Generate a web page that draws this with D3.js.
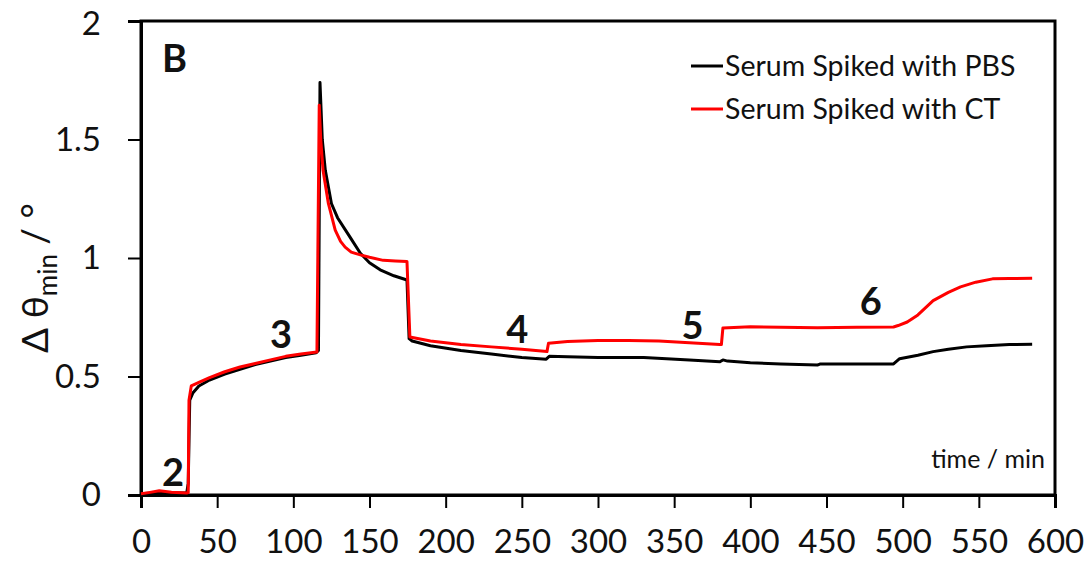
<!DOCTYPE html>
<html>
<head>
<meta charset="utf-8">
<script src="https://cdn.jsdelivr.net/npm/d3@7"></script>
<style>
  html, body { margin: 0; padding: 0; background: #fff; }
  svg { display: block; font-family: Lato, "Open Sans", sans-serif; }
</style>
</head>
<body>
<svg id="chart" width="1089" height="573"></svg>
<script>
// Serum spiked with PBS (control)
const timePBS  = [0, 10, 20, 30, 31, 32, 34, 38, 45, 55, 65, 75, 85, 95, 105, 115, 116.5, 117.5, 119, 121, 125, 129, 137, 144, 150, 157, 166, 174.6, 176, 178, 190, 210, 230, 250, 266, 268, 280, 300, 330, 360, 380, 382, 385, 400, 420, 444, 446, 470, 494, 498, 510, 520, 530, 542, 555, 570, 585];
const valuePBS = [0.005, 0.01, 0.01, 0.008, 0.05, 0.40, 0.43, 0.46, 0.485, 0.51, 0.53, 0.55, 0.565, 0.58, 0.59, 0.60, 0.61, 1.74, 1.50, 1.37, 1.23, 1.17, 1.09, 1.02, 0.98, 0.95, 0.925, 0.907, 0.66, 0.65, 0.63, 0.61, 0.595, 0.58, 0.573, 0.585, 0.583, 0.58, 0.58, 0.57, 0.562, 0.57, 0.565, 0.558, 0.553, 0.548, 0.553, 0.553, 0.553, 0.575, 0.59, 0.605, 0.615, 0.625, 0.63, 0.635, 0.636];

// Serum spiked with CT
const timeCT  = [0, 5, 12, 20, 30, 31, 31.5, 33, 38, 45, 55, 65, 75, 85, 95, 105, 115.5, 117, 118, 119.5, 123, 127.5, 131, 134, 138, 144, 150, 159, 167, 174.6, 176.5, 190, 210, 230, 250, 266.5, 267.5, 280, 300, 320, 340, 360, 380, 381, 382, 400, 420, 444, 470, 494, 497, 503, 510, 520, 530, 538, 548, 559, 570, 585];
const valueCT = [0.005, 0.01, 0.018, 0.012, 0.008, 0.01, 0.40, 0.46, 0.475, 0.495, 0.52, 0.54, 0.555, 0.57, 0.585, 0.595, 0.603, 1.645, 1.50, 1.37, 1.23, 1.118, 1.07, 1.046, 1.025, 1.013, 1.003, 0.99, 0.987, 0.985, 0.667, 0.65, 0.635, 0.625, 0.615, 0.605, 0.64, 0.648, 0.652, 0.652, 0.65, 0.642, 0.635, 0.635, 0.705, 0.71, 0.708, 0.706, 0.708, 0.709, 0.715, 0.73, 0.76, 0.82, 0.855, 0.878, 0.898, 0.912, 0.913, 0.915];

const xTicks = [0, 50, 100, 150, 200, 250, 300, 350, 400, 450, 500, 550, 600];
const yTicks = [0, 0.5, 1, 1.5, 2];

const seriesNames = ["Serum Spiked with PBS", "Serum Spiked with CT"];
const seriesColors = ["#000000", "#ff0000"];

// Step annotations (injection numbers)
const stepLabels = ["2", "3", "4", "5", "6"];
const stepTimes  = [21, 92, 247, 362, 479];
const stepValues = [0.04, 0.62, 0.64, 0.66, 0.76];

const svg = d3.select("#chart");
const x = d3.scaleLinear().domain([0, 600]).range([141, 1055]);
const y = d3.scaleLinear().domain([0, 2]).range([495, 21]);

// Plot frame
svg.append("rect")
  .attr("x", x(0)).attr("y", y(2))
  .attr("width", x(600) - x(0)).attr("height", y(0) - y(2))
  .attr("fill", "none").attr("stroke", "#000").attr("stroke-width", 3);

// Axes
const xAxis = d3.axisBottom(x).tickValues(xTicks).tickSize(13).tickPadding(22)
  .tickFormat(d3.format("d"));
const gx = svg.append("g").attr("transform", `translate(0,${y(0)})`).call(xAxis);
gx.select(".domain").attr("stroke-width", 3);
gx.selectAll(".tick line").attr("stroke-width", 2);
gx.selectAll(".tick text").attr("font-size", 33).attr("fill", "#111")
  .attr("font-family", "Lato, sans-serif");

const yAxis = d3.axisLeft(y).tickValues(yTicks).tickSize(13).tickPadding(27)
  .tickFormat(d => d === 0 ? "0" : String(d));
const gy = svg.append("g").attr("transform", `translate(${x(0)},0)`).call(yAxis);
gy.select(".domain").attr("stroke-width", 3);
gy.selectAll(".tick line").attr("stroke-width", 2);
gy.selectAll(".tick text").attr("font-size", 33).attr("fill", "#111")
  .attr("font-family", "Lato, sans-serif");
gy.selectAll(".tick").filter(d => d === 2).select("text").attr("dy", "0.4em");

// Data lines
const line = d3.line().x(d => x(d[0])).y(d => y(d[1])).curve(d3.curveLinear);
const dataPBS = timePBS.map((t, i) => [t, valuePBS[i]]);
const dataCT = timeCT.map((t, i) => [t, valueCT[i]]);

svg.append("path").datum(dataPBS).attr("d", line)
  .attr("fill", "none").attr("stroke", seriesColors[0]).attr("stroke-width", 3)
  .attr("stroke-linejoin", "round");
svg.append("path").datum(dataCT).attr("d", line)
  .attr("fill", "none").attr("stroke", seriesColors[1]).attr("stroke-width", 3)
  .attr("stroke-linejoin", "round");

// Panel letter
svg.append("text").attr("x", 162).attr("y", 72)
  .attr("font-size", 38).attr("font-weight", "bold").attr("fill", "#111")
  .text("B");

// Step numbers
svg.selectAll("text.step").data(stepLabels).enter().append("text")
  .attr("class", "step")
  .attr("x", (d, i) => x(stepTimes[i]))
  .attr("y", (d, i) => y(stepValues[i]))
  .attr("text-anchor", "middle")
  .attr("font-size", 38).attr("font-weight", "bold").attr("fill", "#111")
  .text(d => d);

// Legend
const legend = svg.append("g");
seriesNames.forEach((name, i) => {
  const ly = 66 + i * 43;
  legend.append("line").attr("x1", 691).attr("x2", 723).attr("y1", ly).attr("y2", ly)
    .attr("stroke", seriesColors[i]).attr("stroke-width", 3);
  legend.append("text").attr("x", 725).attr("y", ly + 10)
    .attr("font-size", 28.5).attr("fill", "#111").text(name);
});

// Axis titles
svg.append("text").attr("x", 1045).attr("y", 468).attr("text-anchor", "end")
  .attr("font-size", 25).attr("fill", "#111").text("time / min");

const yt = svg.append("text")
  .attr("transform", "translate(48,278) rotate(-90)")
  .attr("text-anchor", "middle").attr("font-size", 37).attr("fill", "#111");
yt.append("tspan").text("Δ θ");
yt.append("tspan").attr("font-size", 26).attr("dy", 9).text("min");
yt.append("tspan").attr("dy", -9).text(" / °");
</script>
</body>
</html>
